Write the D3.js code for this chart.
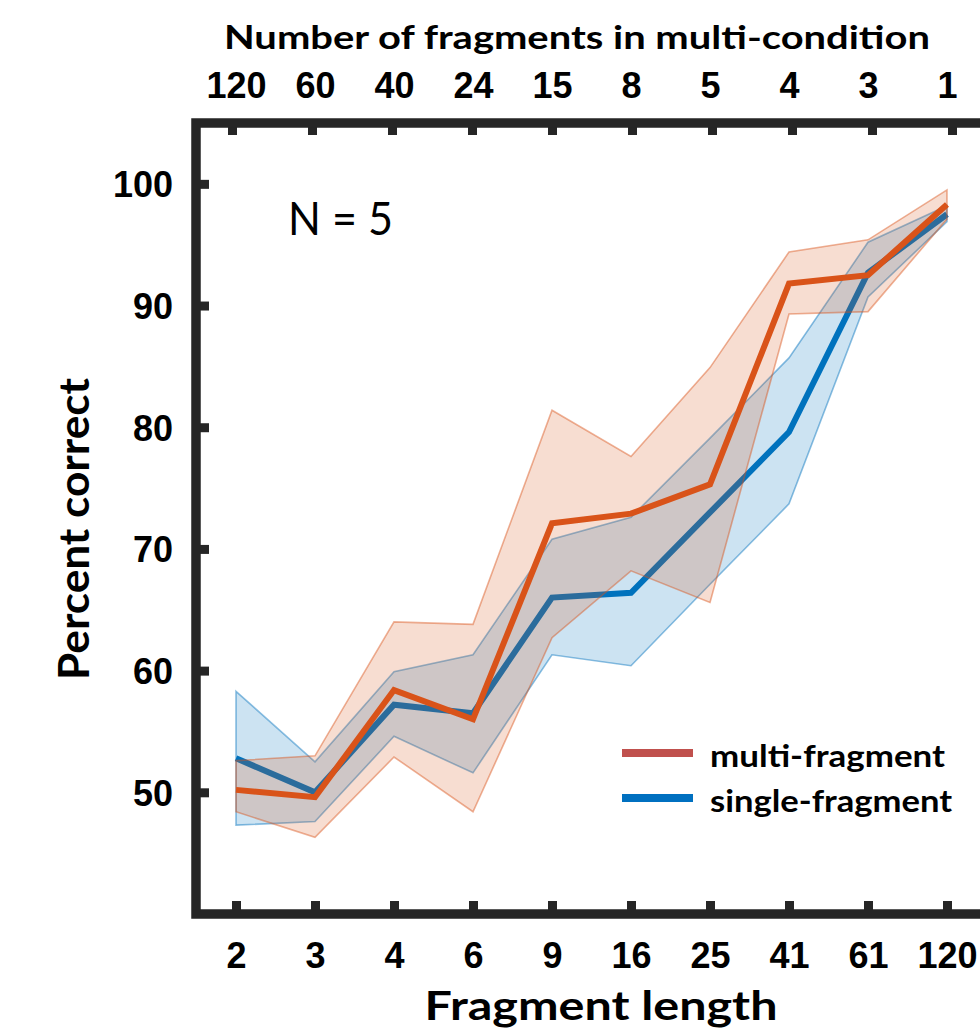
<!DOCTYPE html>
<html>
<head>
<meta charset="utf-8">
<script src="https://cdn.jsdelivr.net/npm/d3@7"></script>
<style>
  body { margin: 0; background: #fff; }
  svg { display: block; font-family: Lato, "Open Sans", sans-serif; }
</style>
</head>
<body>
<svg id="chart" width="980" height="1031"></svg>
<script>
// data
const fragLength = ["2", "3", "4", "6", "9", "16", "25", "41", "61", "120"];
const nFragments = ["120", "60", "40", "24", "15", "8", "5", "4", "3", "1"];

const multiMean = [50.2, 49.6, 58.4, 56.0, 72.1, 72.9, 75.3, 91.8, 92.5, 98.3];
const multiHi   = [52.6, 53.0, 64.0, 63.8, 81.4, 77.6, 84.9, 94.4, 95.4, 99.5];
const multiLo   = [48.4, 46.3, 52.9, 48.4, 62.7, 68.2, 65.6, 89.3, 89.5, 97.1];

const singleMean = [52.8, 50.0, 57.2, 56.5, 66.0, 66.4, 73.0, 79.6, 92.7, 97.5];
const singleHi   = [58.3, 52.5, 59.9, 61.3, 70.8, 72.6, 79.1, 85.7, 95.2, 98.2];
const singleLo   = [47.3, 47.6, 54.6, 51.6, 61.3, 60.4, 67.1, 73.7, 90.7, 96.9];

const yTicks = [50, 60, 70, 80, 90, 100];

const orange = "#D95319", blue = "#0072BD";
const axisCol = "#262626";

const svg = d3.select("#chart");

const idx = d3.range(fragLength.length);
const x = d3.scalePoint(idx, [236, 947]);
const xTop = d3.scalePoint(idx, [232, 952]);
const y = d3.scaleLinear().domain([40, 105]).range([914, 123]);

const left = 196, right = 990;

// bands and lines
const area = (lo, hi) => d3.area()
  .x(i => x(i)).y0(i => y(lo[i])).y1(i => y(hi[i]))(idx);
const line = vals => d3.line().x(i => x(i)).y(i => y(vals[i]))(idx);

function band(lo, hi, col) {
  svg.append("path").attr("d", area(lo, hi))
    .attr("fill", col).attr("fill-opacity", 0.2)
    .attr("stroke", col).attr("stroke-opacity", 0.45).attr("stroke-width", 1.6);
}
function mean(vals, col) {
  svg.append("path").attr("d", line(vals))
    .attr("fill", "none").attr("stroke", col).attr("stroke-width", 6);
}

band(singleLo, singleHi, blue);
mean(singleMean, blue);
band(multiLo, multiHi, orange);
mean(multiMean, orange);

// axes
const gB = svg.append("g").attr("transform", `translate(0,${y.range()[0]})`)
  .call(d3.axisBottom(x).tickSize(-13).tickFormat(i => fragLength[i]));
const gT = svg.append("g").attr("transform", `translate(0,${y.range()[1]})`)
  .call(d3.axisTop(xTop).tickSize(-12).tickFormat(i => nFragments[i]));
const gL = svg.append("g").attr("transform", `translate(${left},0)`)
  .call(d3.axisLeft(y).tickValues(yTicks).tickSize(-13));

[gB, gT, gL].forEach(g => {
  g.select(".domain").remove();
  g.selectAll(".tick line").attr("stroke", axisCol).attr("stroke-width", 9);
  g.selectAll(".tick text").attr("fill", "#000").attr("font-weight", 700)
    .attr("font-size", 36);
});
gB.selectAll(".tick text").attr("y", 54).attr("dy", 0);
gT.selectAll(".tick text").attr("y", -25).attr("dy", 0)
  .attr("x", i => x(i) - xTop(i));
gL.selectAll(".tick text").attr("x", -23).attr("dy", "0.36em");

// box
svg.append("path")
  .attr("d", `M${right},${y.range()[1]}H${left}V${y.range()[0]}H${right}`)
  .attr("fill", "none").attr("stroke", axisCol).attr("stroke-width", 9.5)
  .attr("stroke-linecap", "square");

// labels
svg.append("text").attr("x", 577).attr("y", 49).attr("text-anchor", "middle")
  .attr("font-weight", 700).attr("font-size", 32)
  .attr("textLength", 706).attr("lengthAdjust", "spacingAndGlyphs")
  .text("Number of fragments in multi-condition");
svg.append("text").attr("x", 601).attr("y", 1020).attr("text-anchor", "middle")
  .attr("font-weight", 700).attr("font-size", 40)
  .attr("textLength", 353).attr("lengthAdjust", "spacingAndGlyphs")
  .text("Fragment length");
svg.append("text").attr("transform", "translate(89,529) rotate(-90)")
  .attr("text-anchor", "middle").attr("font-weight", 700).attr("font-size", 42)
  .attr("textLength", 302).attr("lengthAdjust", "spacingAndGlyphs")
  .text("Percent correct");
svg.append("text").attr("x", 288).attr("y", 235)
  .attr("font-size", 46).attr("textLength", 105).attr("lengthAdjust", "spacingAndGlyphs")
  .text("N = 5");

// legend
const legend = [
  { name: "multi-fragment", col: "#C0504D", w: 235 },
  { name: "single-fragment", col: "#0070C0", w: 242 }
];
const lg = svg.append("g").attr("transform", "translate(622,753)");
legend.forEach((d, i) => {
  lg.append("line").attr("x1", 0).attr("x2", 71).attr("y1", i * 45).attr("y2", i * 45)
    .attr("stroke", d.col).attr("stroke-width", 8);
  lg.append("text").attr("x", 88).attr("y", i * 45 + 14)
    .attr("font-weight", 700).attr("font-size", 30)
    .attr("textLength", d.w).attr("lengthAdjust", "spacingAndGlyphs")
    .text(d.name);
});
</script>
</body>
</html>
